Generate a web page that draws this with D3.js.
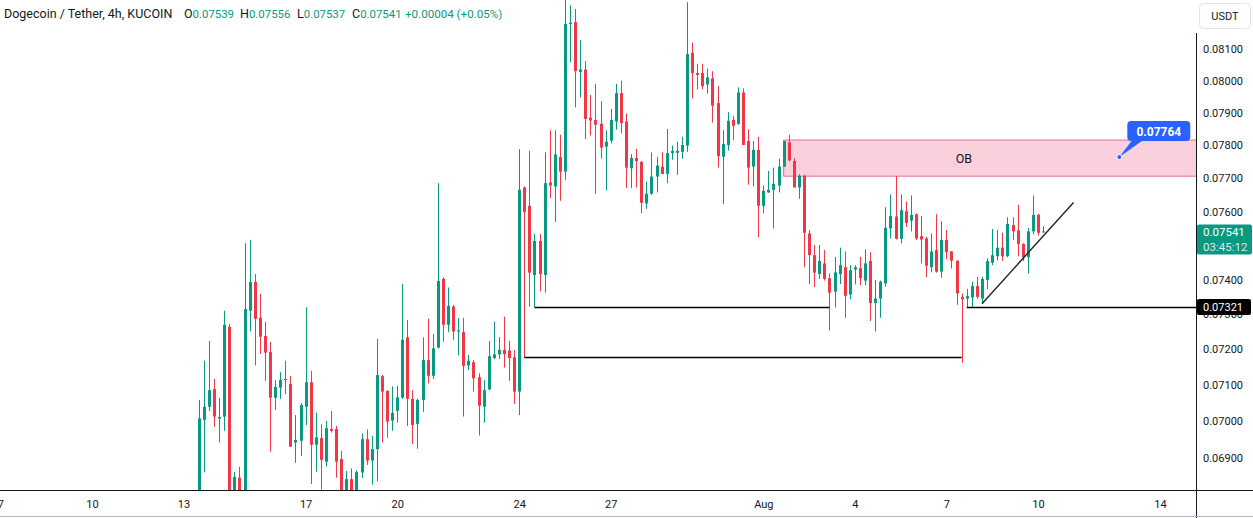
<!DOCTYPE html>
<html><head><meta charset="utf-8">
<script src="https://cdn.jsdelivr.net/npm/d3@7"></script>
<style>
html,body{margin:0;padding:0;background:#fff;overflow:hidden;}
svg{display:block;font-family:Roboto,"Liberation Sans",sans-serif;}
</style></head><body>
<svg id="chart" width="1253" height="518"></svg>
<script>
// ---------- DATA ----------
const firstCandle = Date.UTC(2023, 6, 13, 12); // Jul 13 12:00, 4h candles
const candleHours = 4;
const opens = [0.0676,0.07004,0.0704,0.07089,0.07008,0.07013,0.07264,0.068,0.06847,0.0681,
0.0731,0.07393,0.0729,0.07238,0.07193,0.07065,0.07093,0.07114,0.07103,0.06942,
0.06947,0.0704,0.07108,0.06936,0.06954,0.0689,0.06979,0.06979,0.06897,0.0681,
0.06843,0.0681,0.06861,0.06951,0.06893,0.06924,0.07125,0.07084,0.07002,0.07029,
0.07065,0.07234,0.07062,0.06993,0.07059,0.0717,0.07126,0.07205,0.07402,0.0727,
0.07322,0.07251,0.07249,0.07155,0.07164,0.07122,0.0704,0.07088,0.07176,0.07186,
0.07199,0.07197,0.07178,0.07082,0.07672,0.07617,0.07413,0.07513,0.07413,0.07687,
0.07675,0.07764,0.0772,0.0818,0.08186,0.08027,0.08035,0.07885,0.07878,0.07866,
0.07796,0.07814,0.07873,0.07961,0.07873,0.0773,0.07761,0.07749,0.07624,0.07653,
0.07705,0.07735,0.07713,0.07776,0.07777,0.0778,0.07799,0.08088,0.08024,0.08024,
0.07988,0.08007,0.0793,0.07765,0.07801,0.07878,0.07866,0.07963,0.07813,0.07735,
0.07786,0.07617,0.07657,0.07665,0.07678,0.07735,0.07809,0.07752,0.07672,0.07707,
0.07535,0.07471,0.07416,0.07447,0.07404,0.07365,0.07416,0.07436,0.07357,0.07429,
0.07433,0.07397,0.07454,0.07332,0.07345,0.07389,0.0755,0.07585,0.07519,0.07601,
0.07573,0.07592,0.07527,0.0752,0.07436,0.07486,0.07423,0.07516,0.07482,0.07455,
0.0735,0.07345,0.07348,0.07381,0.07345,0.07399,0.07449,0.07468,0.07493,0.07468,
0.0756,0.07544,0.07504,0.07465,0.07541,0.0759,0.07539];
const highs = [0.07059,0.07168,0.07224,0.07117,0.07065,0.0731,0.07272,0.06862,0.06876,0.07506,
0.07516,0.07416,0.07359,0.07278,0.07221,0.07114,0.07136,0.07168,0.07125,0.07017,
0.0705,0.0732,0.0714,0.07024,0.06992,0.07001,0.07028,0.06987,0.06919,0.06865,
0.06872,0.06866,0.06967,0.06978,0.0696,0.0723,0.07128,0.07086,0.07096,0.07098,
0.07387,0.07284,0.07086,0.07062,0.07234,0.07287,0.07244,0.07685,0.07406,0.07377,
0.07327,0.07289,0.0729,0.07184,0.0717,0.07133,0.07114,0.07224,0.07279,0.07235,
0.07293,0.07224,0.07199,0.07788,0.07675,0.07783,0.07533,0.07533,0.07778,0.07846,
0.07846,0.07832,0.0826,0.0824,0.08228,0.08128,0.08062,0.07955,0.0799,0.07936,
0.07846,0.07912,0.0799,0.08,0.07898,0.07773,0.07789,0.07752,0.0769,0.07778,
0.07765,0.07779,0.0785,0.07799,0.07811,0.07826,0.0825,0.0812,0.08053,0.08053,
0.08038,0.0803,0.07983,0.07846,0.07902,0.07891,0.07979,0.07976,0.07849,0.07813,
0.07826,0.07678,0.07722,0.07732,0.07759,0.07813,0.07832,0.0776,0.07712,0.0771,
0.07545,0.07501,0.07501,0.07486,0.07418,0.07466,0.07493,0.07482,0.07442,0.07442,
0.07466,0.07488,0.0748,0.07399,0.07397,0.07613,0.07651,0.07707,0.07651,0.0763,
0.07648,0.07594,0.07587,0.07525,0.07535,0.07592,0.07571,0.07545,0.07483,0.07455,
0.0736,0.07373,0.07394,0.07408,0.07408,0.07462,0.07548,0.07545,0.07537,0.07583,
0.07583,0.0762,0.07506,0.07551,0.07648,0.07593,0.07556];
const lows = [0.0672,0.06861,0.07028,0.06985,0.06942,0.06974,0.0678,0.0676,0.0676,0.0678,
0.07251,0.07155,0.07187,0.07112,0.06917,0.07031,0.07062,0.07075,0.0693,0.06887,
0.06905,0.0699,0.0683,0.06863,0.06815,0.06877,0.06969,0.06847,0.0678,0.0678,
0.0677,0.0678,0.06846,0.06881,0.06828,0.06837,0.06942,0.06955,0.06974,0.06996,
0.07062,0.06987,0.06938,0.06925,0.07026,0.07105,0.07117,0.07203,0.07222,0.07249,
0.07227,0.07184,0.07013,0.07142,0.07082,0.06961,0.06996,0.07086,0.07173,0.07173,
0.07149,0.07112,0.07048,0.07017,0.07178,0.07322,0.0732,0.07366,0.07362,0.07641,
0.07569,0.07632,0.07695,0.08058,0.07917,0.07948,0.07819,0.0783,0.07653,0.07759,
0.07663,0.07806,0.07848,0.07837,0.0767,0.0767,0.07672,0.07595,0.07608,0.0765,
0.07657,0.07712,0.07685,0.07756,0.0771,0.07759,0.0778,0.07944,0.07972,0.07973,
0.0796,0.0787,0.07732,0.07622,0.07784,0.07816,0.07863,0.078,0.0768,0.07675,
0.07524,0.07595,0.07656,0.0755,0.07657,0.07735,0.07751,0.07672,0.07638,0.07436,
0.07387,0.07378,0.07402,0.07397,0.07254,0.07319,0.07387,0.0729,0.07343,0.07386,
0.07384,0.07384,0.07281,0.07251,0.0729,0.07379,0.0752,0.07517,0.07506,0.07554,
0.07541,0.07515,0.07447,0.07407,0.07421,0.0742,0.07405,0.07459,0.07432,0.07327,
0.07162,0.0732,0.0732,0.07345,0.0733,0.07372,0.07442,0.07455,0.07454,0.07465,
0.07516,0.07468,0.07454,0.07418,0.07533,0.07529,0.07537];
const closes = [0.07008,0.0704,0.07086,0.07013,0.07012,0.0727,0.068,0.06849,0.0681,0.07315,
0.07393,0.07287,0.07236,0.07191,0.07065,0.07095,0.07114,0.07117,0.06931,0.06949,
0.07045,0.07108,0.06936,0.06956,0.06895,0.06981,0.06974,0.0689,0.0681,0.06843,
0.0681,0.06862,0.06951,0.06893,0.06924,0.07128,0.07082,0.06999,0.07023,0.07066,
0.07227,0.07062,0.0699,0.07059,0.0717,0.07126,0.07203,0.07396,0.0727,0.07324,
0.07251,0.07254,0.07154,0.07168,0.07119,0.07043,0.07086,0.07181,0.07186,0.07199,
0.07187,0.07176,0.07082,0.07665,0.07599,0.0742,0.07513,0.07416,0.07685,0.07678,
0.07772,0.0772,0.0818,0.08184,0.0803,0.08035,0.07881,0.07876,0.07863,0.07793,
0.07811,0.07878,0.07961,0.07868,0.07732,0.07761,0.07752,0.07626,0.07653,0.07705,
0.07738,0.07713,0.07776,0.07783,0.07783,0.07801,0.08084,0.08024,0.08018,0.07983,
0.0801,0.07922,0.07767,0.07804,0.07875,0.0786,0.07963,0.07801,0.07732,0.07786,
0.07617,0.07662,0.07665,0.07683,0.07735,0.07813,0.07754,0.07672,0.07707,0.07537,
0.07471,0.0742,0.07454,0.07402,0.07362,0.07421,0.07442,0.07353,0.07427,0.07436,
0.07404,0.07447,0.07332,0.07345,0.07394,0.07552,0.07587,0.07519,0.07604,0.07566,
0.0759,0.0752,0.07517,0.0744,0.07482,0.07423,0.07516,0.0748,0.07455,0.0736,
0.07343,0.07352,0.07381,0.0735,0.07402,0.07454,0.07471,0.07493,0.07468,0.07563,
0.07541,0.07504,0.07465,0.07541,0.0759,0.07537,0.07541];

// 0.07500 is fully covered by the last-price label in the reference, so it is not listed
const priceTicks = [0.069,0.070,0.071,0.072,0.073,0.074,0.076,0.077,0.078,0.079,0.080,0.081];
const dateTicks = ["2023-07-07","2023-07-10","2023-07-13","2023-07-17","2023-07-20","2023-07-24","2023-07-27","2023-08-01","2023-08-04","2023-08-07","2023-08-10","2023-08-14"];
const dateTickLabels = ["7","10","13","17","20","24","27","Aug","4","7","10","14"];

// annotations (time, price)
const hLevels = [
  {from:"2023-07-24T12:00Z", to:"2023-08-03T04:00Z", price:0.07321},
  {from:"2023-07-24T04:00Z", to:"2023-08-07T12:00Z", price:0.07178},
  {from:"2023-08-07T16:00Z", to:null, price:0.07321}
];
const obZone = {from:"2023-08-01T16:00Z", top:0.07816, bottom:0.07706, label:"OB"};
const trendLine = {t1:"2023-08-08T04:00Z", p1:0.0733, t2:"2023-08-11T04:00Z", p2:0.07627};
const callout = {t:"2023-08-12T16:00Z", price:0.07764, text:"0.07764"};
const title = "Dogecoin / Tether, 4h, KUCOIN";
const countdown = "03:45:12";
const markedLevel = 0.07321;

// ---------- CHART ----------
const W = 1253, H = 518, plotR = 1196, plotB = 490;
const GREEN = "#089981", RED = "#F23645", TXT = "#131722";
const svg = d3.select("#chart");
svg.append("rect").attr("width",W).attr("height",H).attr("fill","#fff");

const x = d3.scaleUtc()
  .domain([new Date(Date.UTC(2023,6,10)), new Date(Date.UTC(2023,7,14))])
  .range([92, 1160]);
const y = d3.scaleLog().domain([0.069, 0.081]).range([458, 49]);

const candles = opens.map((o,i)=>({
  t:new Date(firstCandle + i*candleHours*3600e3), o, h:highs[i], l:lows[i], c:closes[i]
}));

svg.append("clipPath").attr("id","plot").append("rect")
  .attr("x",0).attr("y",0).attr("width",plotR).attr("height",plotB);
const plot = svg.append("g").attr("clip-path","url(#plot)");

// OB zone
plot.append("rect")
  .attr("x", x(new Date(obZone.from))).attr("y", y(obZone.top))
  .attr("width", plotR - x(new Date(obZone.from)) + 2)
  .attr("height", y(obZone.bottom) - y(obZone.top))
  .attr("fill","#f9d0dc").attr("stroke","#e66f98").attr("stroke-width",1);
plot.append("text")
  .attr("x", (x(new Date(obZone.from)) + x(new Date("2023-08-14T00:00Z"))) / 2 - 8)
  .attr("y", (y(obZone.top)+y(obZone.bottom))/2 + 4.5)
  .attr("text-anchor","middle").attr("font-size",12.5).attr("fill",TXT).text(obZone.label);

// candles
const cg = plot.append("g");
candles.forEach(d=>{
  const cx = Math.round(x(d.t));
  const col = d.c >= d.o ? GREEN : RED;
  cg.append("rect").attr("x",cx).attr("width",1)
    .attr("y",y(d.h)).attr("height",Math.max(1,y(d.l)-y(d.h))).attr("fill",col);
  const top = y(Math.max(d.o,d.c)), bot = y(Math.min(d.o,d.c));
  cg.append("rect").attr("x",cx-1).attr("width",3)
    .attr("y",top).attr("height",Math.max(1,bot-top)).attr("fill",col);
});

// horizontal levels
hLevels.forEach(l=>{
  const x1 = x(new Date(l.from)), x2 = l.to ? x(new Date(l.to)) : plotR;
  const yy = Math.round(y(l.price)) + 0.5;
  plot.append("line").attr("x1",x1).attr("x2",x2).attr("y1",yy).attr("y2",yy)
    .attr("stroke","#000").attr("stroke-width",1.3);
});

// trend line
plot.append("line")
  .attr("x1",x(new Date(trendLine.t1))).attr("y1",y(trendLine.p1))
  .attr("x2",x(new Date(trendLine.t2))).attr("y2",y(trendLine.p2))
  .attr("stroke","#222").attr("stroke-width",1.4);

// callout
{
  const cx = x(new Date(callout.t)), cy = y(callout.price);
  const bx = cx + 8, by = cy - 36, bw = 63, bh = 20;
  plot.append("path")
    .attr("d",`M${cx},${cy} L${bx+5},${by+bh-1} L${bx+16},${by+bh-1} Z`)
    .attr("fill","#2962FF");
  plot.append("rect").attr("x",bx).attr("y",by).attr("width",bw).attr("height",bh)
    .attr("rx",4).attr("fill","#2962FF");
  plot.append("text").attr("x",bx+bw/2).attr("y",by+14.5).attr("text-anchor","middle")
    .attr("font-size",12).attr("font-weight","bold").attr("fill","#fff").text(callout.text);
  plot.append("circle").attr("cx",cx).attr("cy",cy).attr("r",2.5)
    .attr("fill","#2962FF").attr("stroke","#fff").attr("stroke-width",1);
}

// axes lines
svg.append("line").attr("x1",0).attr("x2",W).attr("y1",plotB+0.5).attr("y2",plotB+0.5)
  .attr("stroke",TXT).attr("stroke-width",1);
svg.append("line").attr("x1",plotR+0.5).attr("x2",plotR+0.5).attr("y1",33).attr("y2",H)
  .attr("stroke",TXT).attr("stroke-width",1);
svg.append("line").attr("x1",0).attr("x2",W).attr("y1",H-1.5).attr("y2",H-1.5)
  .attr("stroke","#b2b5be").attr("stroke-width",1);

// y axis
const yAxis = d3.axisRight(y).tickValues(priceTicks).tickSize(0).tickPadding(7)
  .tickFormat(d=>d.toFixed(5));
const yg = svg.append("g").attr("transform",`translate(${plotR},0)`).call(yAxis);
yg.select(".domain").remove();
yg.selectAll("text").attr("font-size",11).attr("fill",TXT)
  .attr("font-family","Roboto,'Liberation Sans',sans-serif");

// x axis
const xAxis = d3.axisBottom(x).tickValues(dateTicks.map(s=>new Date(s+"T00:00Z")))
  .tickSize(0).tickPadding(10).tickFormat((d,i)=>dateTickLabels[i]);
const xg = svg.append("g").attr("transform",`translate(0,${plotB})`).call(xAxis);
xg.select(".domain").remove();
xg.selectAll("text").attr("font-size",11).attr("fill",TXT)
  .attr("font-family","Roboto,'Liberation Sans',sans-serif");

// marked level label (black)
{
  const yy = y(markedLevel);
  svg.append("rect").attr("x",plotR+1).attr("y",yy-8).attr("width",54).attr("height",16)
    .attr("rx",2).attr("fill","#000");
  svg.append("text").attr("x",plotR+7).attr("y",yy+4).attr("font-size",11)
    .attr("fill","#fff").text(markedLevel.toFixed(5));
}
// last price label (green)
{
  const last = candles[candles.length-1];
  const yy = y(last.c);
  svg.append("rect").attr("x",plotR+1).attr("y",yy-7).attr("width",55).attr("height",30)
    .attr("rx",2).attr("fill",GREEN);
  svg.append("text").attr("x",plotR+7).attr("y",yy+5).attr("font-size",11.5)
    .attr("fill","#fff").text(last.c.toFixed(5));
  svg.append("text").attr("x",plotR+7).attr("y",yy+19.5).attr("font-size",11.5)
    .attr("fill","#fff").attr("fill-opacity",0.85).text(countdown);
}

// USDT button
svg.append("rect").attr("x",1199.5).attr("y",3.5).attr("width",51).attr("height",25)
  .attr("rx",4).attr("fill","#fff").attr("stroke","#e0e3eb");
svg.append("text").attr("x",1225).attr("y",20).attr("text-anchor","middle")
  .attr("font-size",11).attr("fill",TXT).text("USDT");

// header legend
{
  const last = candles[candles.length-1], prev = candles[candles.length-2];
  const chg = last.c - prev.c, pct = chg/prev.c*100;
  const col = chg >= 0 ? GREEN : RED;
  const g = svg.append("g").attr("font-size",12.5).attr("fill",TXT);
  g.append("text").attr("x",4).attr("y",18).text(title);
  const parts = [["O",last.o,184],["H",last.h,240],["L",last.l,297],["C",last.c,352]];
  parts.forEach(p=>{
    const t = g.append("text").attr("x",p[2]).attr("y",18);
    t.append("tspan").text(p[0]);
    t.append("tspan").attr("fill",col).attr("font-size",11.4).text(p[1].toFixed(5));
  });
  g.append("text").attr("x",405).attr("y",18).attr("fill",col).attr("font-size",11.6)
    .text((chg>=0?"+":"")+chg.toFixed(5)+" ("+(chg>=0?"+":"")+pct.toFixed(2)+"%)");
}
</script>
</body></html>
